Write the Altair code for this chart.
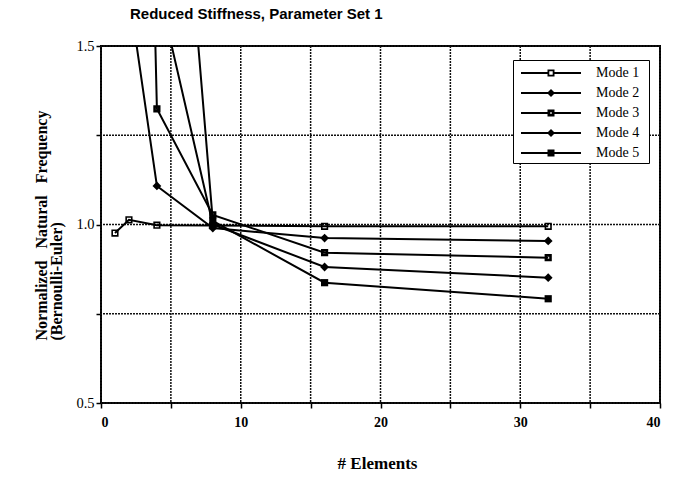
import altair as alt
import pandas as pd

# ---------------- data ----------------
modes = ["Mode 1", "Mode 2", "Mode 3", "Mode 4", "Mode 5"]

mode1_elements = [1, 2, 4, 8, 16, 32]
mode1_freq = [0.976, 1.013, 0.998, 0.997, 0.995, 0.995]

mode2_elements = [2, 4, 8, 16, 32]
mode2_freq = [1.65, 1.108, 0.990, 0.962, 0.954]

mode3_elements = [2, 4, 8, 16, 32]
mode3_freq = [4.60, 1.324, 1.027, 0.921, 0.907]

mode4_elements = [4, 8, 16, 32]
mode4_freq = [1.68, 1.000, 0.881, 0.851]

mode5_elements = [4, 8, 16, 32]
mode5_freq = [2.90, 1.010, 0.837, 0.792]

x_ticks = [0, 5, 10, 15, 20, 25, 30, 35, 40]
y_ticks = [0.5, 0.75, 1.0, 1.25, 1.5]

title_text = "Reduced Stiffness, Parameter Set 1"
x_title = "# Elements"
NB = "\u00a0"
y_title = [f"Normalized{NB*3}Natural{NB*3}Frequency", "(Bernoulli-Euler)"]

# ---------------- tables ----------------
rows = []
for m, xs, ys in zip(
    modes,
    [mode1_elements, mode2_elements, mode3_elements, mode4_elements, mode5_elements],
    [mode1_freq, mode2_freq, mode3_freq, mode4_freq, mode5_freq],
):
    for xv, yv in zip(xs, ys):
        rows.append({"Mode": m, "Elements": xv, "Freq": yv})
df = pd.DataFrame(rows)
xgrid_df = pd.DataFrame({"Elements": x_ticks})
ygrid_df = pd.DataFrame({"Freq": y_ticks})

# marker shapes on the plot (unit box -1..1)
ring_open = "M-0.9,-0.9H0.9V0.9H-0.9Z M-0.5,-0.5V0.5H0.5V-0.5Z"
ring_dot = "M-0.9,-0.9H0.9V0.9H-0.9Z M-0.25,-0.25V0.25H0.25V-0.25Z"
diamond = "M0,-1.1L1.1,0L0,1.1L-1.1,0Z"
plot_shapes = [ring_open, diamond, ring_dot, diamond, "M-0.9,-0.9H0.9V0.9H-0.9Z"]

# legend symbols: line with marker in the middle
seg_l = "M-0.5,-0.1H2.15V0.1H-0.5Z"
seg_r = "M2.85,-0.1H5.5V0.1H2.85Z"
full_line = "M-0.5,-0.1H5.5V0.1H-0.5Z"
sq_out = "M2.15,-0.35H2.85V0.35H2.15Z"
leg1 = f"{seg_l} {seg_r} {sq_out} M2.33,-0.17V0.17H2.67V-0.17Z"
leg2 = f"{full_line} M2.5,-0.4L2.9,0L2.5,0.4L2.1,0Z"
leg3 = f"{seg_l} {seg_r} {sq_out} M2.42,-0.08V0.08H2.58V-0.08Z"
leg4 = leg2
leg5 = f"{full_line} {sq_out}"
legend_shapes = [leg1, leg2, leg3, leg4, leg5]

serif = "Liberation Serif"

x_enc = alt.X(
    "Elements:Q",
    scale=alt.Scale(domain=[0, 40], nice=False, zero=False),
    axis=alt.Axis(
        values=x_ticks,
        grid=False,
        labelExpr="datum.value % 10 == 0 ? datum.label : ''",
        title=x_title,
        titleFont=serif,
        titleFontSize=17,
        titleFontWeight="bold",
        titleX=276,
        titleY=65,
        titleAlign="center",
        titleBaseline="alphabetic",
        labelFont=serif,
        labelFontSize=14,
        labelFontWeight="bold",
        labelPadding=7,
    ),
)
y_enc = alt.Y(
    "Freq:Q",
    scale=alt.Scale(domain=[0.5, 1.5], nice=False, zero=False),
    axis=alt.Axis(
        values=y_ticks,
        grid=False,
        labelExpr="(datum.value * 4) % 2 == 0 ? format(datum.value, '.1f') : ''",
        title=y_title,
        titleFont=serif,
        titleFontSize=16,
        titleFontWeight="bold",
        titleAngle=270,
        titleX=-60,
        titleY=294,
        titleAlign="left",
        titleBaseline="middle",
        titleLineHeight=15,
        labelFont=serif,
        labelFontSize=14.5,
        labelPadding=2,
    ),
)

grid_style = dict(color="#111111", strokeWidth=1.5, strokeDash=[2, 1])
vgrid = alt.Chart(xgrid_df).mark_rule(**grid_style).encode(x=x_enc)
hgrid = alt.Chart(ygrid_df).mark_rule(**grid_style).encode(y=y_enc)

base = alt.Chart(df)

lines = base.mark_line(color="black", strokeWidth=2, clip=True).encode(
    x=x_enc, y=y_enc, detail="Mode:N", order="Elements:Q"
)

points = base.mark_point(filled=True, color="black", size=64, opacity=1, clip=True).encode(
    x=x_enc,
    y=y_enc,
    shape=alt.Shape("Mode:N", scale=alt.Scale(domain=modes, range=plot_shapes), legend=None),
)

legend_layer = base.mark_point(filled=True, color="black", opacity=0, clip=True).encode(
    x=x_enc,
    y=y_enc,
    shape=alt.Shape(
        "Mode:N",
        scale=alt.Scale(domain=modes, range=legend_shapes),
        legend=alt.Legend(
            title=NB,
            titleOrient="right",
            titleFontSize=8,
            titlePadding=7,
            orient="none",
            legendX=412,
            legendY=14,
            padding=3,
            rowPadding=3,
            symbolSize=400,
            symbolFillColor="black",
            symbolStrokeWidth=0,
            labelOffset=60,
            labelFont=serif,
            labelFontSize=14,
            labelColor="black",
            strokeColor="black",
            fillColor="white",
        ),
    ),
)

chart = (
    alt.layer(vgrid, hgrid, lines, points, legend_layer)
    .resolve_scale(shape="independent")
    .properties(
        width=559,
        height=357,
        autosize=alt.AutoSizeParams(type="none"),
        padding={"left": 101, "top": 46, "right": 22, "bottom": 76},
        title=alt.TitleParams(
            title_text,
            anchor="start",
            frame="group",
            dx=29,
            offset=16,
            font="Liberation Sans",
            fontSize=15,
            fontWeight="bold",
            color="black",
        ),
        background="white",
    )
    .configure_view(stroke="black", strokeWidth=2)
    .configure_axis(
        domain=False,
        tickColor="black",
        tickWidth=1.5,
        tickSize=5,
        labelColor="black",
        titleColor="black",
    )
)

chart.save("out.html", embed_options={"renderer": "svg", "actions": False})
